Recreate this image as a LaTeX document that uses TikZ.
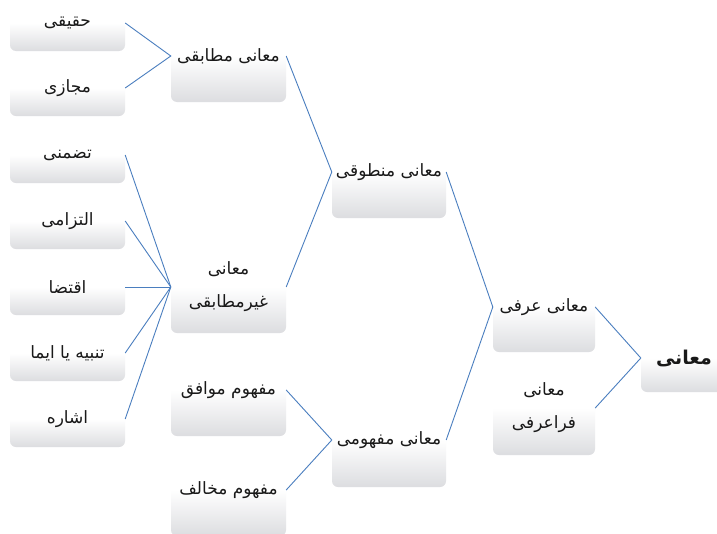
\documentclass[tikz,border=0pt]{standalone}
\usepackage{fontspec}
\newfontfamily\arabicfont[Script=Arabic]{DejaVu Sans}
\TeXXeTstate=1
\definecolor{boxgray}{HTML}{DCDDE0}
\definecolor{linkblue}{HTML}{4A7EBF}
\tikzset{
  box/.style={shade, top color=white, bottom color=boxgray, middle color=white,
    rounded corners=6pt, inner sep=0pt, align=center, text=black!90,
    font=\arabicfont\fontsize{17}{33}\selectfont},
  link/.style={draw=linkblue, line width=0.9pt}
}
\begin{document}
\begin{tikzpicture}[x=1pt,y=-1pt]
\useasboundingbox[fill=white] (0,0) rectangle (717,533);
% leaves
\node[box, minimum width=115, minimum height=56] (hq) at (67.5,23) {\beginR حقیقی\endR};
\node[box, minimum width=115, minimum height=56] (mj) at (67.5,88) {\beginR مجازی\endR};
\node[box, minimum width=115, minimum height=56] (tz) at (67.5,155) {\beginR تضمنی\endR};
\node[box, minimum width=115, minimum height=56] (il) at (67.5,221) {\beginR التزامی\endR};
\node[box, minimum width=115, minimum height=56] (iq) at (67.5,287) {\beginR اقتضا\endR};
\node[box, minimum width=115, minimum height=56] (tb) at (67.5,353) {\beginR تنبیه یا ایما\endR};
\node[box, minimum width=115, minimum height=56] (ish) at (67.5,419) {\beginR اشاره\endR};
% column 2
\node[box, minimum width=115, minimum height=92] (mt) at (228.5,56) {\beginR معانی مطابقی\endR};
\node[box, minimum width=115, minimum height=92] (gm) at (228.5,287) {\beginR معانی\endR\\\beginR غیرمطابقی\endR};
\node[box, minimum width=115, minimum height=92] (mw) at (228.5,390) {\beginR مفهوم موافق\endR};
\node[box, minimum width=115, minimum height=92] (mk) at (228.5,490) {\beginR مفهوم مخالف\endR};
% column 3
\node[box, minimum width=114, minimum height=92] (mn) at (389,172) {\beginR معانی منطوقی\endR};
\node[box, minimum width=114, minimum height=94] (mf) at (389,440) {\beginR معانی مفهومی\endR};
% column 4
\node[box, minimum width=102, minimum height=90] (urf) at (544,307) {\beginR معانی عرفی\endR};
\node[box, minimum width=102, minimum height=94] (fur) at (544,408) {\beginR معانی\endR\\\beginR فراعرفی\endR};
% root
\node[box, minimum width=86, minimum height=68, font=\arabicfont\bfseries\fontsize{19}{24}\selectfont] (root) at (684,358) {\beginR معانی\endR};
% connectors
\draw[link] (hq.east) -- (mt.west) -- (mj.east);
\foreach \c in {tz,il,iq,tb,ish} \draw[link] (\c.east) -- (gm.west);
\draw[link] (mt.east) -- (mn.west) -- (gm.east);
\draw[link] (mw.east) -- (mf.west) -- (mk.east);
\draw[link] (mn.east) -- (urf.west) -- (mf.east);
\draw[link] (urf.east) -- (root.west) -- (fur.east);
\end{tikzpicture}
\end{document}
